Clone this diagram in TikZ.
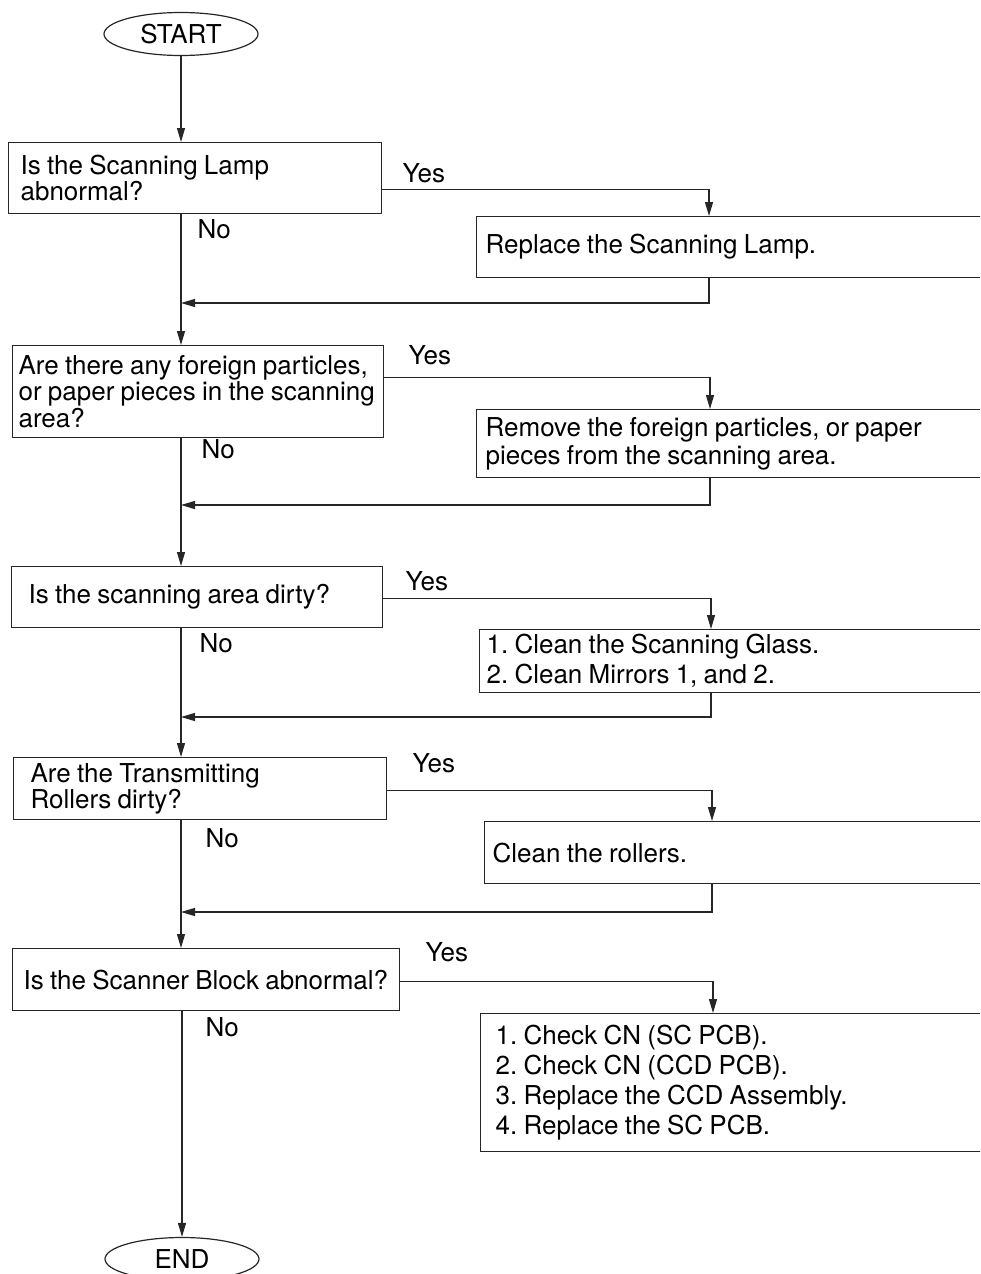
\documentclass[tikz,border=0pt]{standalone}
\usepackage{fontspec}
\setmainfont{TeX Gyre Heros}
\usetikzlibrary{arrows.meta,shapes.geometric}

\begin{document}
\begin{tikzpicture}[x=1pt,y=-1pt,>={Triangle[length=14pt,width=8pt]},
  line width=1.2pt, draw=black!85,
  every node/.style={font=\fontsize{26}{26}\selectfont, text=black},
  term/.style={draw,ellipse,minimum width=154pt,minimum height=43pt,inner sep=0pt},
  box/.style n args={4}{draw,anchor=north west,inner sep=0pt,text width=#1pt,
    minimum height=#2pt,align=left,
    execute at begin node={\leftskip=#3pt\rightskip=-30pt plus 1fil
      \baselineskip=#4pt\hyphenpenalty=10000\frenchspacing\spaceskip=0.24em\relax}},
  lbl/.style={anchor=base west,inner sep=0pt}]
  \useasboundingbox (0,0) rectangle (980,1274);
  \clip (0,0) rectangle (980,1274);

  % Terminals
  \node[term] (start) at (181,34) {START};
  \node[term] (finish) at (182,1259) {END};

  % Questions
  \node[box={373}{71}{12}{20}] (q1) at (8,142) {Is the Scanning Lamp\\abnormal?};
  \node[box={371}{92}{6}{26.7}] (q2) at (12,345) {Are there any foreign particles,\\or paper pieces in the scanning\\area?};
  \node[box={371}{61}{17}{26}] (q3) at (11,566) {Is the scanning area dirty?};
  \node[box={373}{62}{17}{26}] (q4) at (13,757) {Are the Transmitting\\Rollers dirty?};
  \node[box={387}{62}{11}{26}] (q5) at (12,948) {Is the Scanner Block abnormal?};

  % Actions
  \node[box={540}{61}{9}{26}] (a1) at (476,216) {Replace the Scanning Lamp.};
  \node[box={540}{68}{9}{28}] (a2) at (476,409) {Remove the foreign particles, or paper\\pieces from the scanning area.};
  \node[box={540}{63}{7}{30}] (a3) at (479,629) {1. Clean the Scanning Glass.\\2. Clean Mirrors 1, and 2.};
  \node[box={540}{62}{8}{26}] (a4) at (484,821) {Clean the rollers.};
  \node[box={540}{138}{15}{30}] (a5) at (480,1013) {1. Check CN (SC PCB).\\2. Check CN (CCD PCB).\\3. Replace the CCD Assembly.\\4. Replace the SC PCB.};

  % Helper coordinates
  \coordinate (spine) at (181,0);
  \coordinate (t1) at (709,0);
  \coordinate (t2) at (710,0);
  \coordinate (t3) at (711,0);
  \coordinate (t4) at (712,0);
  \coordinate (t5) at (713,0);
  \coordinate (r1) at (181,303);
  \coordinate (r2) at (181,505);
  \coordinate (r3) at (181,717);
  \coordinate (r4) at (181,912);

  % Main line (No)
  \draw[->] (start) -- (start |- q1.north);
  \draw[->] (q1.south -| spine) -- (q2.north -| spine);
  \draw[->] (q2.south -| spine) -- (q3.north -| spine);
  \draw[->] (q3.south -| spine) -- (q4.north -| spine);
  \draw[->] (q4.south -| spine) -- (q5.north -| spine);
  \draw[->] (q5.south -| finish) -- (finish.north);

  % Yes branches
  \draw[->] ([yshift=-11.5pt]q1.east) -| (a1.north -| t1);
  \draw[->] ([yshift=14pt]q2.east) -| (a2.north -| t2);
  \draw[->] ([yshift=-1.5pt]q3.east) -| (a3.north -| t3);
  \draw[->] ([yshift=-2pt]q4.east) -| (a4.north -| t4);
  \draw[->] ([yshift=-2pt]q5.east) -| (a5.north -| t5);

  % Back to main line
  \draw[->] (a1.south -| t1) |- (r1);
  \draw[->] (a2.south -| t2) |- (r2);
  \draw[->] (a3.south -| t3) |- (r3);
  \draw[->] (a4.south -| t4) |- (r4);

  % Labels
  \node[lbl] (y1) at (402,182) {Yes};
  \node[lbl] (n1) at (197,238) {No};
  \node[lbl] (y2) at (408,364) {Yes};
  \node[lbl] (n2) at (201,458) {No};
  \node[lbl] (y3) at (405,590) {Yes};
  \node[lbl] (n3) at (199,652) {No};
  \node[lbl] (y4) at (412,772) {Yes};
  \node[lbl] (n4) at (205,847) {No};
  \node[lbl] (y5) at (425,961) {Yes};
  \node[lbl] (n5) at (205,1036) {No};
\end{tikzpicture}
\end{document}
